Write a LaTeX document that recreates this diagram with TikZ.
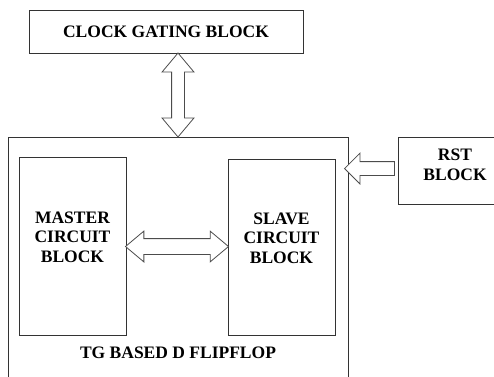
\documentclass[tikz,border=0pt]{standalone}
\usepackage{fontspec}
\setmainfont{Liberation Serif}
\usetikzlibrary{shapes.arrows,positioning,calc}

\begin{document}
\begin{tikzpicture}[x=1pt,y=-1pt]
\tikzset{
  block/.style={rectangle, draw=black!80, line width=0.9pt, align=center,
    font=\bfseries\fontsize{17.5}{19.5}\selectfont, inner sep=0pt},
  dblarrow/.style={double arrow, draw=black!70, fill=white, line width=0.8pt,
    minimum width=0pt, double arrow tip angle=80},
  sglarrow/.style={single arrow, draw=black!70, fill=white, line width=0.8pt,
    minimum width=0pt, single arrow tip angle=90},
  lab/.style={font=\bfseries\fontsize{17.5}{19.5}\selectfont, inner sep=0pt}
}
\useasboundingbox (0,0) rectangle (494,376);

\node[block, minimum width=274pt, minimum height=43pt] (clock) at (166,31.5) {CLOCK GATING BLOCK};
\node[block, minimum width=340pt, minimum height=252pt] (flipflop) at (178,263) {};
\node[block, minimum width=107pt, minimum height=178pt, text depth=18pt] (master) at (72.5,246) {MASTER\\CIRCUIT\\BLOCK};
\node[block, minimum width=107pt, minimum height=176pt, text depth=18pt] (slave) at (281.5,247) {SLAVE\\CIRCUIT\\BLOCK};
\node[block, minimum width=114pt, minimum height=67pt, text depth=12pt] (rst) at (455,170.5) {RST\\BLOCK};
\node[lab] (ffname) at (178,353) {TG BASED D FLIPFLOP};

% block arrows between the boxes
\node[dblarrow, minimum height=84pt, inner sep=6pt, double arrow head extend=9.5pt,
  shape border rotate=90] (cglink) at ($(flipflop.north)!0.5!(flipflop.north |- clock.south)$) {};
\node[dblarrow, minimum height=103pt, inner sep=7.5pt, double arrow head extend=7.5pt]
  (mslink) at ($(master.east)!0.5!(slave.west)$) {};
\node[sglarrow, minimum height=50pt, inner sep=6.5pt, single arrow head extend=8.5pt,
  shape border rotate=180] (rstlink) at ($(rst.west)!0.5!(flipflop.east |- rst.west)+(0,-2)$) {};
\end{tikzpicture}
\end{document}
